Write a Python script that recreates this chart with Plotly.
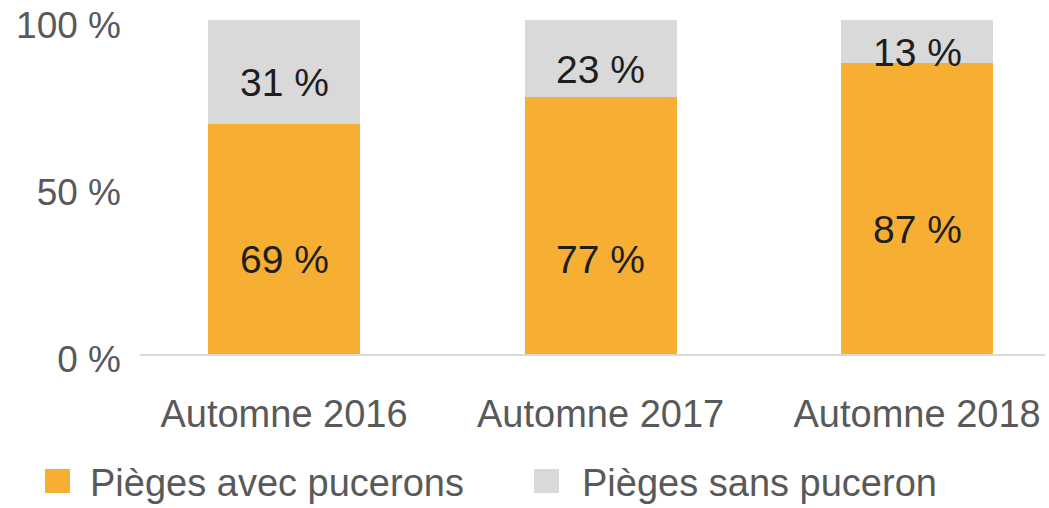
import plotly.graph_objects as go

categories = ["Automne 2016", "Automne 2017", "Automne 2018"]
with_aphids = [69, 77, 87]
without_aphids = [31, 23, 13]
series_names = ["Pièges avec pucerons", "Pièges sans puceron"]
y_tick_values = [0, 50, 100]
y_tick_labels = ["0 %", "50 %", "100 %"]

ORANGE = "#F6AE33"
GRAY = "#D9D9D9"
AXIS_TEXT = "#595959"
LABEL_TEXT = "#1e1e1e"
FONT = "Liberation Sans, Arial, Helvetica, sans-serif"

x_pos = list(range(len(categories)))

fig = go.Figure()
fig.add_trace(go.Bar(x=x_pos, y=with_aphids, name=series_names[0],
                     marker=dict(color=ORANGE, line=dict(width=0)), width=0.48))
fig.add_trace(go.Bar(x=x_pos, y=without_aphids, name=series_names[1],
                     marker=dict(color=GRAY, line=dict(width=0)), width=0.48))

# data labels (placed slightly below segment centres, as in the original)
annotations = []
for i, (a, b) in enumerate(zip(with_aphids, without_aphids)):
    annotations.append(dict(x=i, y=a / 2, yshift=-21 if i != 1 else -34,
                            text=f"{a} %", showarrow=False,
                            font=dict(size=39, color=LABEL_TEXT, family=FONT)))
    annotations.append(dict(x=i, y=a + b / 2, yshift=-11,
                            text=f"{b} %", showarrow=False,
                            font=dict(size=39, color=LABEL_TEXT, family=FONT)))

# manual legend
shapes = []
legend_items = [(series_names[0], ORANGE, 45, 88), (series_names[1], GRAY, 534, 580)]
for name, color, sx, tx in legend_items:
    shapes.append(dict(type="rect", xref="paper", yref="paper",
                       x0=(sx - 140) / 905, x1=(sx + 25 - 140) / 905,
                       y0=(354 - 493) / 334, y1=(354 - 469) / 334,
                       fillcolor=color, line=dict(width=0)))
    annotations.append(dict(xref="paper", yref="paper",
                            x=(tx - 140) / 905, y=(354 - 483) / 334,
                            xanchor="left", yanchor="middle", text=name, showarrow=False,
                            font=dict(size=38, color=AXIS_TEXT, family=FONT)))

fig.update_layout(
    barmode="stack",
    width=1049, height=508,
    margin=dict(l=140, r=4, t=20, b=154),
    paper_bgcolor="white", plot_bgcolor="white",
    showlegend=False,
    font=dict(family=FONT, size=38, color=AXIS_TEXT),
    annotations=annotations,
    shapes=shapes,
)
fig.update_xaxes(
    range=[-0.455, 2.404], tickvals=x_pos, ticktext=categories,
    showline=True, linecolor=GRAY, linewidth=2, showgrid=False, zeroline=False,
    ticks="", ticklabelstandoff=25, tickfont=dict(size=38, color=AXIS_TEXT, family=FONT),
    ticklabeloverflow="allow", fixedrange=True,
)
fig.update_yaxes(
    range=[0, 100], tickvals=y_tick_values, ticktext=y_tick_labels,
    showgrid=False, zeroline=False, showline=False, ticks="",
    ticklabelstandoff=18, ticklabelshift=5, ticklabeloverflow="allow",
    tickfont=dict(size=37, color=AXIS_TEXT, family=FONT),
    fixedrange=True,
)

fig.write_html("out.html", config={"displayModeBar": False},
               post_script="document.body.style.margin='0';document.body.style.padding='0';")
